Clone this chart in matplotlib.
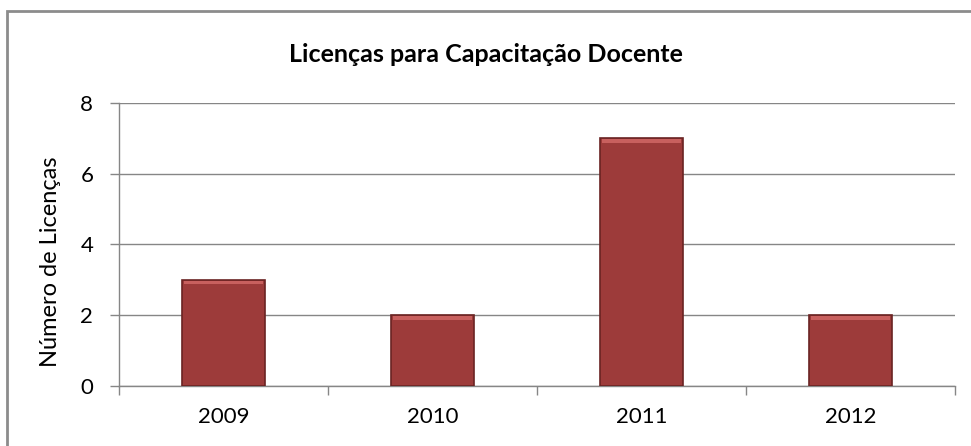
import numpy as np
import matplotlib
matplotlib.use('Agg')
import matplotlib.pyplot as plt
from matplotlib.patches import Rectangle

# data
anos = ['2009', '2010', '2011', '2012']
licencas = [3, 2, 7, 2]

plt.rcParams['font.family'] = ['Lato', 'DejaVu Sans']

fig = plt.figure(figsize=(9.71, 4.46), dpi=100)
ax = fig.add_axes([0.1226, 0.1345, 0.861, 0.635])

grey = '#868686'
x = np.arange(len(anos))
w = 0.40

# bars with a darker rim and a lighter bevel on top
ax.bar(x, licencas, width=w, color='#9d3b3a', edgecolor='#6a2322', linewidth=1.2, zorder=3)
bevel = 0.1
ax.bar(x, [bevel] * len(anos), width=w * 0.94, bottom=np.array(licencas) - bevel - 0.03,
       color='#c8605e', edgecolor='none', zorder=4)

ax.set_xlim(-0.5, len(anos) - 0.5)
ax.set_ylim(0, 8)
ax.set_yticks([0, 2, 4, 6, 8])
ax.yaxis.grid(True, color=grey, linewidth=1, zorder=0)

ax.set_xticks(x)
ax.set_xticklabels(anos)
ax.set_xticks(np.arange(-0.5, len(anos)), minor=True)
ax.tick_params(axis='x', which='major', length=0, pad=15, labelsize=16)
ax.tick_params(axis='x', which='minor', length=6.5, color=grey, width=1)
ax.tick_params(axis='y', length=6.5, color=grey, width=1, pad=12, labelsize=16)

for s in ['top', 'right']:
    ax.spines[s].set_visible(False)
for s in ['left', 'bottom']:
    ax.spines[s].set_color(grey)
    ax.spines[s].set_linewidth(1)

ax.set_ylabel('Número de Licenças', fontsize=17)
ax.yaxis.set_label_coords(-0.07, 0.44)
fig.text(0.5, 0.878, 'Licenças para Capacitação Docente', ha='center', va='center',
         fontsize=18, fontweight='bold')

# outer chart frame (only left and top visible in the original)
fig.add_artist(Rectangle((0.0072, -0.1), 1.2, 0.1 + 0.975, transform=fig.transFigure,
                         fill=False, edgecolor='#8c8c8c', linewidth=2))

fig.savefig('out.png', dpi=100)
